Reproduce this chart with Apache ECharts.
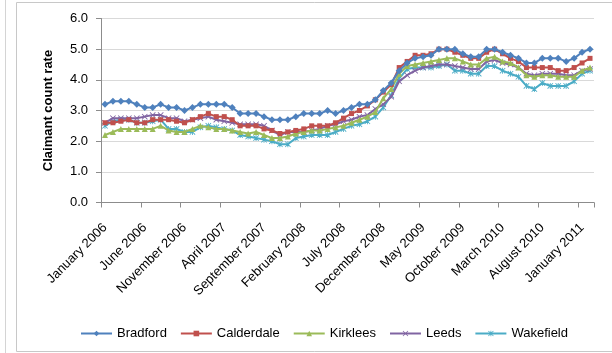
<!DOCTYPE html>
<html>
<head>
<meta charset="utf-8">
<script src="https://cdn.jsdelivr.net/npm/echarts@6/dist/echarts.min.js"></script>
<style>html,body{margin:0;padding:0;background:#fff;}#c{width:612px;height:353px;}</style>
</head>
<body>
<div id="c"></div>
<script>
const monthNames = ["January","February","March","April","May","June","July","August","September","October","November","December"];
const categories = [];
for (let y = 2006; y <= 2011; y++) {
  for (let m = 0; m < 12; m++) {
    if (y === 2011 && m > 1) break;
    categories.push(monthNames[m] + " " + y);
  }
}
const yTicks = [0, 1, 2, 3, 4, 5, 6];
const seriesNames = ["Bradford", "Calderdale", "Kirklees", "Leeds", "Wakefield"];

const bradford = [3.2,3.3,3.3,3.3,3.2,3.1,3.1,3.2,3.1,3.1, 3.0,3.1,3.2,3.2,3.2,3.2,3.1,2.9,2.9,2.9, 2.8,2.7,2.7,2.7,2.8,2.9,2.9,2.9,3.0,2.9, 3.0,3.1,3.2,3.2,3.35,3.65,3.9,4.3,4.55,4.7, 4.75,4.8,5.0,5.0,5.0,4.85,4.75,4.75,5.0,5.0, 4.9,4.8,4.7,4.55,4.55,4.7,4.7,4.7,4.6,4.7, 4.9,5.0];
const calderdale = [2.6,2.6,2.65,2.7,2.6,2.6,2.7,2.7,2.7,2.65, 2.6,2.7,2.8,2.9,2.8,2.8,2.7,2.5,2.5,2.5, 2.4,2.35,2.25,2.3,2.35,2.4,2.5,2.5,2.5,2.6, 2.75,2.9,3.0,3.15,3.35,3.6,3.85,4.4,4.6,4.8, 4.8,4.85,5.0,5.0,4.9,4.8,4.7,4.7,4.9,5.0, 4.85,4.7,4.6,4.4,4.4,4.4,4.4,4.3,4.3,4.4, 4.55,4.7];
const kirklees = [2.2,2.3,2.4,2.4,2.4,2.4,2.4,2.5,2.35,2.3, 2.3,2.4,2.5,2.45,2.4,2.4,2.35,2.3,2.25,2.3, 2.2,2.1,2.1,2.15,2.25,2.3,2.35,2.35,2.4,2.45, 2.5,2.6,2.7,2.8,2.95,3.4,3.7,4.2,4.45,4.5, 4.55,4.6,4.65,4.7,4.7,4.6,4.5,4.5,4.7,4.75, 4.6,4.55,4.4,4.15,4.1,4.15,4.15,4.1,4.1,4.1, 4.3,4.4];
const leeds = [2.6,2.75,2.75,2.75,2.75,2.8,2.85,2.85,2.75,2.75, 2.65,2.7,2.75,2.8,2.7,2.65,2.6,2.55,2.55,2.55, 2.5,2.35,2.2,2.3,2.3,2.3,2.35,2.4,2.5,2.55, 2.65,2.7,2.8,2.85,3.05,3.2,3.45,3.95,4.15,4.3, 4.4,4.45,4.5,4.5,4.45,4.4,4.35,4.35,4.6,4.65, 4.55,4.5,4.4,4.2,4.15,4.2,4.2,4.2,4.15,4.15, 4.3,4.35];
const wakefield = [2.5,2.65,2.7,2.7,2.6,2.6,2.65,2.7,2.4,2.4, 2.3,2.3,2.45,2.5,2.45,2.4,2.35,2.2,2.15,2.1, 2.05,2.0,1.9,1.9,2.1,2.15,2.2,2.2,2.2,2.3, 2.4,2.5,2.55,2.65,2.8,3.1,3.5,4.05,4.35,4.4, 4.4,4.4,4.45,4.5,4.3,4.3,4.2,4.2,4.45,4.45, 4.3,4.2,4.1,3.8,3.7,3.9,3.8,3.8,3.8,3.95, 4.2,4.3];

const colors = ["#4F81BD", "#C0504D", "#9BBB59", "#8064A2", "#4BACC6"];
const symbols = [
  "diamond",
  "rect",
  "triangle",
  "path://M0,1L1,0L5,4L9,0L10,1L6,5L10,9L9,10L5,6L1,10L0,9L4,5Z",
  "path://M0,1L1,0L5,4L9,0L10,1L6,5L10,9L9,10L5,6L1,10L0,9L4,5Z M4.3,0H5.7V10H4.3Z"
];
const symbolSizes = [7, 5, 6, 6, 6];
const allData = [bradford, calderdale, kirklees, leeds, wakefield];

const FONT = "Liberation Sans";
const chart = echarts.init(document.getElementById('c'), null, {renderer: 'canvas'});
chart.setOption({
  animation: false,
  color: colors,
  textStyle: {fontFamily: FONT},
  graphic: [
    {type: 'line', shape: {x1: 5.5, y1: 0, x2: 5.5, y2: 353}, style: {stroke: '#d4d4d4', lineWidth: 1}, silent: true},
    {type: 'rect', shape: {x: 16.5, y: 2.5, width: 620, height: 349}, style: {fill: 'none', stroke: '#c8c8c8', lineWidth: 1}, silent: true}
  ],
  grid: {left: 101, top: 18.5, width: 493, height: 184},
  legend: {
    left: 75, top: 322,
    itemWidth: 31, itemHeight: 7, itemGap: 13,
    textStyle: {fontFamily: FONT, fontSize: 13, color: '#000'},
    data: seriesNames
  },
  xAxis: {
    type: 'category',
    data: categories,
    boundaryGap: true,
    axisLine: {lineStyle: {color: '#8c8c8c', width: 1}},
    axisTick: {show: true, interval: 4, length: 5, lineStyle: {color: '#8c8c8c'}},
    axisLabel: {interval: 4, rotate: 45, margin: 23, fontFamily: FONT, fontSize: 13, color: '#000'},
    splitLine: {show: false}
  },
  yAxis: {
    type: 'value',
    min: 0, max: 6, interval: 1,
    name: 'Claimant count rate',
    nameLocation: 'middle',
    nameGap: 46,
    nameTextStyle: {fontFamily: FONT, fontSize: 13, fontWeight: 'bold', color: '#000'},
    axisLine: {show: true, lineStyle: {color: '#8c8c8c', width: 1}},
    axisTick: {show: true, length: 5, lineStyle: {color: '#8c8c8c'}},
    axisLabel: {margin: 13, fontFamily: FONT, fontSize: 13, color: '#000', formatter: v => (yTicks.includes(v) ? v.toFixed(1) : '')},
    splitLine: {lineStyle: {color: '#d9d9d9', width: 1}}
  },
  series: seriesNames.map((n, i) => ({
    name: n,
    type: 'line',
    data: allData[i],
    symbol: symbols[i],
    symbolSize: symbolSizes[i],
    showAllSymbol: true,
    lineStyle: {width: 2, color: colors[i]},
    itemStyle: {color: colors[i]},
    z: 10 - i
  }))
});
</script>
</body>
</html>
